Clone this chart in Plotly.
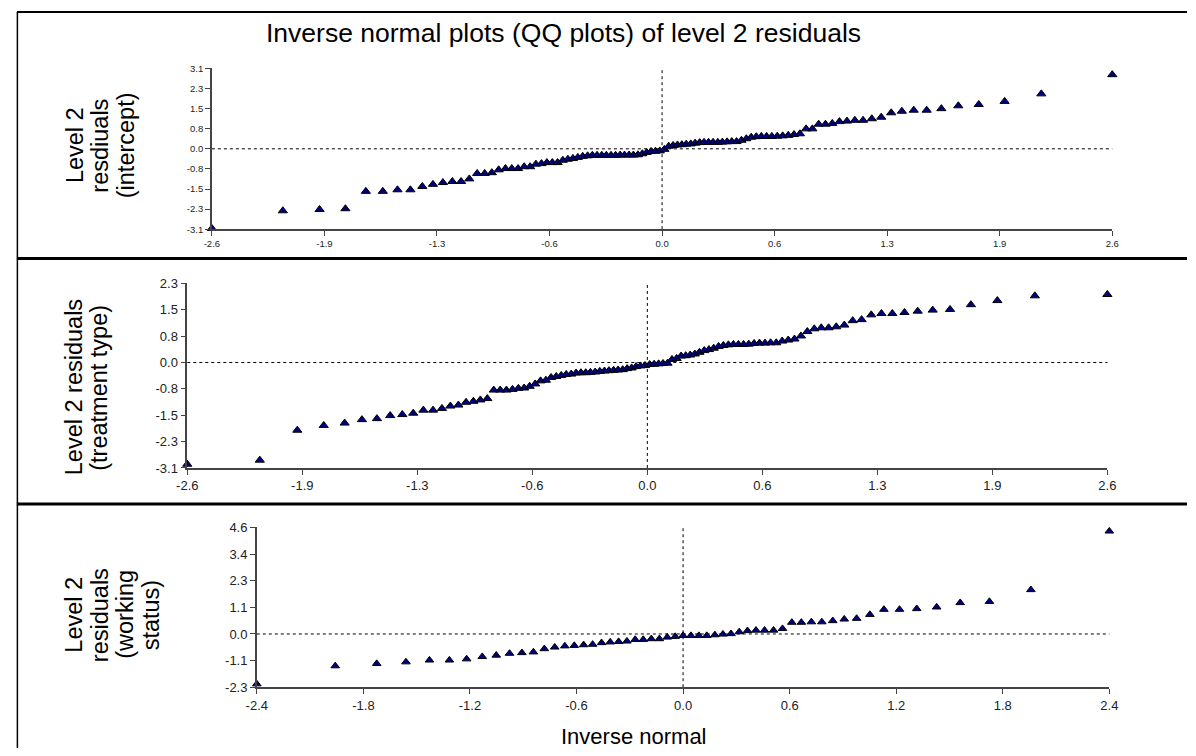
import plotly.graph_objects as go

# ---------------- data ----------------
# normal scores (inverse normal of ranks) for the 100 level-2 units
normal_scores_100 = [
    -2.576, -2.170, -1.960, -1.812, -1.695, -1.598, -1.514, -1.440, -1.372, -1.311,
    -1.254, -1.200, -1.150, -1.103, -1.058, -1.015, -0.974, -0.935, -0.896, -0.860,
    -0.824, -0.789, -0.755, -0.722, -0.690, -0.659, -0.628, -0.598, -0.568, -0.539,
    -0.510, -0.482, -0.454, -0.426, -0.399, -0.372, -0.345, -0.319, -0.292, -0.266,
    -0.240, -0.215, -0.189, -0.164, -0.138, -0.113, -0.088, -0.063, -0.038, -0.013,
    0.013, 0.038, 0.063, 0.088, 0.113, 0.138, 0.164, 0.189, 0.215, 0.240,
    0.266, 0.292, 0.319, 0.345, 0.372, 0.399, 0.426, 0.454, 0.482, 0.510,
    0.539, 0.568, 0.598, 0.628, 0.659, 0.690, 0.722, 0.755, 0.789, 0.824,
    0.860, 0.896, 0.935, 0.974, 1.015, 1.058, 1.103, 1.150, 1.200, 1.254,
    1.311, 1.372, 1.440, 1.514, 1.598, 1.695, 1.812, 1.960, 2.170, 2.576,
]

resid_intercept = [
    -3.07, -2.39, -2.34, -2.31, -1.64, -1.64, -1.58, -1.58, -1.45, -1.37,
    -1.30, -1.26, -1.26, -1.16, -0.95, -0.95, -0.92, -0.81, -0.76, -0.76,
    -0.76, -0.69, -0.69, -0.59, -0.57, -0.53, -0.53, -0.53, -0.44, -0.40,
    -0.37, -0.33, -0.29, -0.27, -0.25, -0.25, -0.25, -0.25, -0.25, -0.25,
    -0.24, -0.24, -0.24, -0.24, -0.23, -0.19, -0.14, -0.10, -0.09, -0.08,
    -0.02, 0.10, 0.13, 0.15, 0.16, 0.18, 0.19, 0.22, 0.24, 0.25,
    0.25, 0.25, 0.25, 0.26, 0.27, 0.28, 0.28, 0.33, 0.39, 0.45,
    0.47, 0.48, 0.48, 0.48, 0.49, 0.50, 0.52, 0.55, 0.58, 0.77,
    0.77, 0.95, 0.95, 0.98, 1.05, 1.07, 1.10, 1.10, 1.16, 1.22,
    1.39, 1.45, 1.49, 1.49, 1.55, 1.66, 1.71, 1.83, 2.12, 2.86,
]

resid_treatment = [
    -2.99, -2.87, -1.99, -1.85, -1.78, -1.68, -1.65, -1.56, -1.53, -1.49,
    -1.40, -1.40, -1.35, -1.28, -1.25, -1.17, -1.14, -1.10, -1.06, -0.81,
    -0.81, -0.81, -0.79, -0.76, -0.75, -0.70, -0.63, -0.54, -0.52, -0.44,
    -0.41, -0.38, -0.35, -0.34, -0.31, -0.30, -0.30, -0.29, -0.28, -0.26,
    -0.25, -0.24, -0.23, -0.22, -0.21, -0.18, -0.16, -0.12, -0.10, -0.09,
    -0.06, -0.05, -0.04, -0.03, -0.02, 0.09, 0.12, 0.19, 0.20, 0.22,
    0.25, 0.30, 0.35, 0.38, 0.42, 0.47, 0.50, 0.52, 0.53, 0.53,
    0.53, 0.54, 0.56, 0.57, 0.57, 0.58, 0.58, 0.63, 0.66, 0.69,
    0.78, 0.91, 0.99, 1.02, 1.02, 1.05, 1.10, 1.23, 1.26, 1.40,
    1.44, 1.44, 1.47, 1.51, 1.54, 1.56, 1.70, 1.82, 1.96, 2.00,
]

# normal scores for the 57 units with a working-status residual
normal_scores_57 = [
    -2.375, -1.938, -1.707, -1.544, -1.413, -1.302, -1.206, -1.119, -1.041, -0.967,
    -0.898, -0.834, -0.773, -0.715, -0.659, -0.606, -0.554, -0.504, -0.454, -0.406,
    -0.359, -0.313, -0.267, -0.222, -0.177, -0.132, -0.088, -0.044, 0.000,
    0.044, 0.088, 0.132, 0.177, 0.222, 0.267, 0.313, 0.359, 0.406, 0.454,
    0.504, 0.554, 0.606, 0.659, 0.715, 0.773, 0.834, 0.898, 0.967, 1.041,
    1.119, 1.206, 1.302, 1.413, 1.544, 1.707, 1.938, 2.375,
]

resid_working = [
    -2.16, -1.38, -1.28, -1.21, -1.13, -1.13, -1.08, -0.98, -0.92, -0.84,
    -0.81, -0.78, -0.64, -0.57, -0.52, -0.50, -0.47, -0.45, -0.38, -0.35,
    -0.33, -0.31, -0.24, -0.24, -0.21, -0.21, -0.14, -0.11,
    -0.07, -0.07, -0.07, -0.07, -0.04, -0.01, 0.01, 0.09, 0.14, 0.16,
    0.16, 0.16, 0.23, 0.50, 0.50, 0.52, 0.52, 0.57, 0.64, 0.67,
    0.84, 1.06, 1.06, 1.09, 1.16, 1.35, 1.40, 1.91, 4.44,
]

# tick values and labels
x100_tickvals = [-2.576, -1.932, -1.288, -0.644, 0.0, 0.644, 1.288, 1.932, 2.576]
x100_ticktext = ["-2.6", "-1.9", "-1.3", "-0.6", "0.0", "0.6", "1.3", "1.9", "2.6"]
y_int_tickvals = [-3.1, -2.325, -1.55, -0.775, 0.0, 0.775, 1.55, 2.325, 3.1]
y_int_ticktext = ["-3.1", "-2.3", "-1.5", "-0.8", "0.0", "0.8", "1.5", "2.3", "3.1"]
y_trt_tickvals = [-3.1, -2.325, -1.55, -0.775, 0.0, 0.775, 1.55, 2.325]
y_trt_ticktext = ["-3.1", "-2.3", "-1.5", "-0.8", "0.0", "0.8", "1.5", "2.3"]
x57_tickvals = [-2.375, -1.781, -1.1875, -0.594, 0.0, 0.594, 1.1875, 1.781, 2.375]
x57_ticktext = ["-2.4", "-1.8", "-1.2", "-0.6", "0.0", "0.6", "1.2", "1.8", "2.4"]
y_wrk_tickvals = [-2.3, -1.15, 0.0, 1.15, 2.3, 3.45, 4.6]
y_wrk_ticktext = ["-2.3", "-1.1", "0.0", "1.1", "2.3", "3.4", "4.6"]

title_text = "Inverse normal plots (QQ plots) of level 2 residuals"
ylab_top = ["Level 2", "resdiuals", "(intercept)"]
ylab_mid = ["Level 2 residuals", "(treatment type)"]
ylab_bot = ["Level 2", "residuals", "(working", "status)"]
xlab_bot = "Inverse normal"

# ---------------- layout helpers ----------------
W, H = 1196, 756
def px(x):
    return x / W
def py(y):
    return 1 - y / H

NAVY = "#000080"
AXC = "#444444"
FONT = "Liberation Sans, Arial, sans-serif"

fig = go.Figure()

def add_panel(xs, ys, xa, ya, size):
    fig.add_trace(go.Scatter(
        x=xs, y=ys, mode="markers", xaxis=xa, yaxis=ya, cliponaxis=False,
        showlegend=False, hoverinfo="x+y",
        marker=dict(symbol="triangle-up", size=size, color=NAVY,
                    line=dict(color="black", width=1)),
    ))

add_panel(normal_scores_100, resid_intercept, "x", "y", 8)
add_panel(normal_scores_100, resid_treatment, "x2", "y2", 8)
add_panel(normal_scores_57, resid_working, "x3", "y3", 7.5)

def axis(domain, rng, tv, tt, anchor, fs):
    return dict(domain=domain, range=rng, anchor=anchor, tickmode="array",
                tickvals=tv, ticktext=tt, showline=True, linecolor=AXC, linewidth=1.5,
                ticks="outside", ticklen=5, tickcolor=AXC, tickwidth=1.2,
                tickfont=dict(family=FONT, size=fs, color="#222"),
                showgrid=False, zeroline=False, fixedrange=True)

top_xd = [px(204.3), px(1120)]
top_yd = [py(226.7), py(62.7)]
mid_xd = [px(179.3), px(1115)]
mid_yd = [py(470.3), py(282)]
bot_xd = [px(250), px(1117)]
bot_yd = [py(694), py(531)]

fig.update_layout(
    width=W, height=H, margin=dict(l=0, r=0, t=0, b=0),
    paper_bgcolor="white", plot_bgcolor="white", showlegend=False,
    xaxis=axis(top_xd, [x100_tickvals[0], x100_tickvals[-1]], x100_tickvals, x100_ticktext, "y", 9.5),
    yaxis=axis(top_yd, [y_int_tickvals[0], y_int_tickvals[-1]], y_int_tickvals, y_int_ticktext, "x", 9.5),
    xaxis2=axis(mid_xd, [x100_tickvals[0], x100_tickvals[-1]], x100_tickvals, x100_ticktext, "y2", 13),
    yaxis2=axis(mid_yd, [y_trt_tickvals[0], y_trt_tickvals[-1]], y_trt_tickvals, y_trt_ticktext, "x2", 13),
    xaxis3=axis(bot_xd, [x57_tickvals[0], x57_tickvals[-1]], x57_tickvals, x57_ticktext, "y3", 13),
    yaxis3=axis(bot_yd, [y_wrk_tickvals[0], y_wrk_tickvals[-1]], y_wrk_tickvals, y_wrk_ticktext, "x3", 13),
)

# dashed reference lines at zero
shapes = []
for xr, yr in [("x", "y"), ("x2", "y2"), ("x3", "y3")]:
    dash = dict(color="black", width=1, dash="3px,3px")
    shapes.append(dict(type="line", xref=xr + " domain", yref=yr, x0=0, x1=1, y0=0, y1=0,
                       line=dash, layer="below"))
    shapes.append(dict(type="line", xref=xr, yref=yr + " domain", x0=0, x1=0, y0=0, y1=1,
                       line=dash, layer="below"))

# frame and panel separators
shapes.append(dict(type="line", xref="paper", yref="paper", x0=px(6.5), x1=px(6.5),
                   y0=0, y1=py(5), line=dict(color="black", width=1.5)))
shapes.append(dict(type="line", xref="paper", yref="paper", x0=px(6), x1=1,
                   y0=py(5), y1=py(5), line=dict(color="black", width=2)))
for ysep in (256.7, 507):
    shapes.append(dict(type="line", xref="paper", yref="paper", x0=px(6), x1=1,
                       y0=py(ysep), y1=py(ysep), line=dict(color="black", width=3)))
fig.update_layout(shapes=shapes)

ann = []
ann.append(dict(text=title_text, x=px(562), y=py(27), xref="paper", yref="paper",
                showarrow=False, xanchor="center", yanchor="middle",
                font=dict(family=FONT, size=26.5, color="black")))
ann.append(dict(text=xlab_bot, x=px(634), y=py(744), xref="paper", yref="paper",
                showarrow=False, xanchor="center", yanchor="middle",
                font=dict(family=FONT, size=22, color="black")))

def ylines(lines, xs, yc, fs):
    for t, xc in zip(lines, xs):
        ann.append(dict(text=t, x=px(xc), y=py(yc), xref="paper", yref="paper",
                        showarrow=False, textangle=-90, xanchor="center", yanchor="middle",
                        font=dict(family=FONT, size=fs, color="black")))

ylines(ylab_top, [65, 91, 117], 141, 23.5)
ylines(ylab_mid, [64, 90], 388, 23.5)
ylines(ylab_bot, [64, 90, 116, 142], 620, 23.5)

fig.update_layout(annotations=ann)

fig.write_html("out.html")
